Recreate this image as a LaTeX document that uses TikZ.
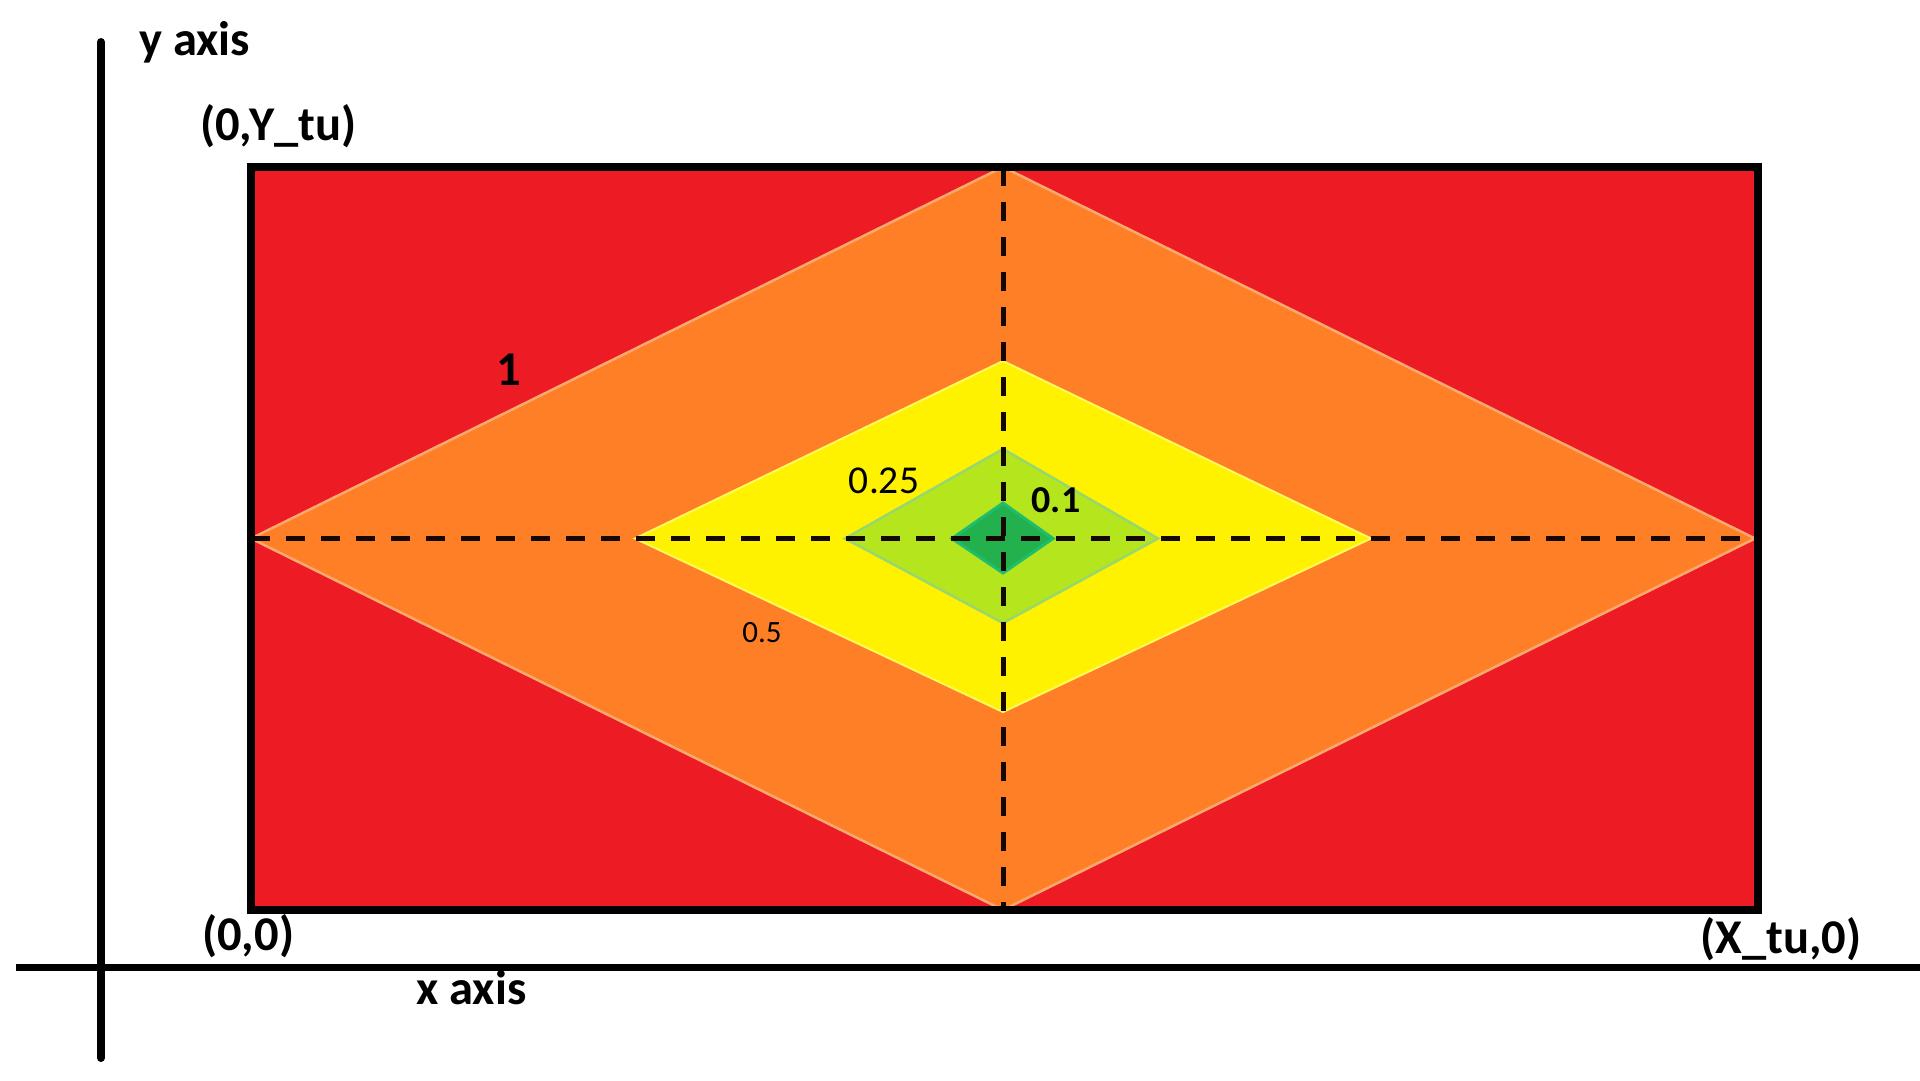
\documentclass[tikz,border=0pt]{standalone}
\usepackage{fontspec}
\setmainfont{Carlito}
\definecolor{pred}{RGB}{237,28,36}
\definecolor{porange}{RGB}{255,127,39}
\definecolor{porangeedge}{RGB}{250,170,110}
\definecolor{pyellow}{RGB}{255,242,0}
\definecolor{pyellowedge}{RGB}{255,250,90}
\definecolor{plime}{RGB}{181,230,29}
\definecolor{plimeedge}{RGB}{150,215,110}
\definecolor{pgreen}{RGB}{34,177,76}
\definecolor{pgreenedge}{RGB}{30,190,110}
\definecolor{dashcol}{RGB}{20,8,0}
\begin{document}
\begin{tikzpicture}[x=1pt,y=-1pt,
  axisline/.style={line width=8pt,black,line cap=round},
  boxframe/.style={line width=8.5pt,black},
  midline/.style={line width=5pt,dashcol,dash pattern=on 19pt off 16pt},
  bigtext/.style={font=\fontsize{48.5}{58}\selectfont\bfseries,inner sep=0pt},
  lvltext/.style={inner sep=0pt,text=black}]
\useasboundingbox (0,0) rectangle (1920,1080);
% rectangle fill
\fill[pred] (251,167) rectangle (1758,910);
% orange diamond
\coordinate (oL) at (251,538.5);
\coordinate (oT) at (1003,167);
\coordinate (oR) at (1755,538.5);
\coordinate (oB) at (1003,910);
\filldraw[fill=porange,draw=porangeedge,line width=2.5pt,line join=miter] (oL) -- (oT) -- (oR) -- (oB) -- cycle;
% yellow diamond
\coordinate (yL) at (635,538.5);
\coordinate (yT) at (1003,361);
\coordinate (yR) at (1371,538.5);
\coordinate (yB) at (1003,712);
\filldraw[fill=pyellow,draw=pyellowedge,line width=2pt] (yL) -- (yT) -- (yR) -- (yB) -- cycle;
% lime diamond
\coordinate (lL) at (845,538.5);
\coordinate (lT) at (1003,449);
\coordinate (lR) at (1158,538.5);
\coordinate (lB) at (1003,623);
\filldraw[fill=plime,draw=plimeedge,line width=2.5pt] (lL) -- (lT) -- (lR) -- (lB) -- cycle;
% dark green diamond
\coordinate (gL) at (952,538.5);
\coordinate (gT) at (1003,503);
\coordinate (gR) at (1053,538.5);
\coordinate (gB) at (1003,573);
\filldraw[fill=pgreen,draw=pgreenedge,line width=3pt] (gL) -- (gT) -- (gR) -- (gB) -- cycle;
% dashed mid lines
\draw[midline] (oL) -- (oR);
\draw[midline] (oT) -- (oB);
% frame
\draw[boxframe] (251,167) rectangle (1758,910);
% axes
\coordinate (yaxTop) at (101,42);
\coordinate (yaxBot) at (101,1058);
\coordinate (xaxL) at (16,967);
\coordinate (xaxR) at (1924,967);
\draw[axisline] (yaxTop) -- (yaxBot);
\draw[line width=7pt,black] (xaxL) -- (xaxR);
% labels
\node[bigtext,anchor=base west] (ylab) at (139,55) {y axis};
\node[bigtext,anchor=base west] (xlab) at (416,1004) {x axis};
\node[bigtext,anchor=base west] (p0Y) at (200,140) {(0,Y\_tu)};
\node[bigtext,anchor=base west] (p00) at (202,950) {(0,0)};
\node[bigtext,anchor=base west] (pX0) at (1700,953) {(X\_tu,0)};
\node[bigtext,anchor=base] (l1) at (509,385) {1};
\node[lvltext,font=\fontsize{39.5}{47}\selectfont,anchor=base] (l025) at (884,493) {0.25};
\node[lvltext,font=\fontsize{38}{45}\selectfont\bfseries,anchor=base] (l01) at (1056,512) {0.1};
\node[lvltext,font=\fontsize{31}{37}\selectfont,anchor=base] (l05) at (762,642) {0.5};
\end{tikzpicture}
\end{document}
